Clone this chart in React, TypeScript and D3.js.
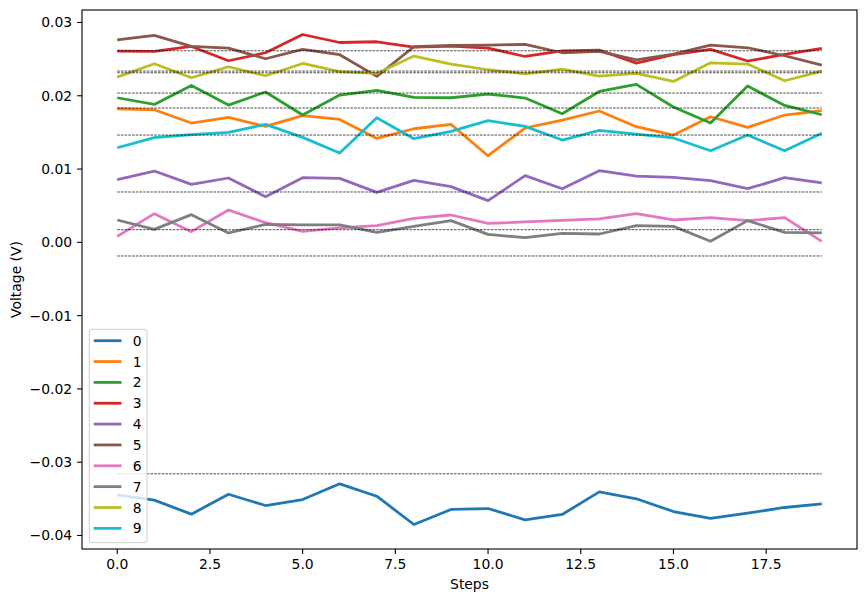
import React from 'react';
import * as d3 from 'd3';

const steps = [0, 1, 2, 3, 4, 5, 6, 7, 8, 9, 10, 11, 12, 13, 14, 15, 16, 17, 18, 19];

const s0 = [-0.03445, -0.03518, -0.03709, -0.03437, -0.03591, -0.03509, -0.03295, -0.03464, -0.0385, -0.03645, -0.03632, -0.03786, -0.03713, -0.03404, -0.03499, -0.03673, -0.03768, -0.03696, -0.03618, -0.03568];
const s1 = [0.01823, 0.01809, 0.01628, 0.01705, 0.01582, 0.01728, 0.01677, 0.01418, 0.0155, 0.01609, 0.01182, 0.0156, 0.01669, 0.01792, 0.01578, 0.01464, 0.01714, 0.01568, 0.01737, 0.01796];
const s2 = [0.01973, 0.01882, 0.02141, 0.01873, 0.02051, 0.01737, 0.0201, 0.02073, 0.01977, 0.01973, 0.02024, 0.01969, 0.01755, 0.02059, 0.02155, 0.01846, 0.01628, 0.02133, 0.01868, 0.01741];
const s3 = [0.0261, 0.02605, 0.02673, 0.02478, 0.02587, 0.02836, 0.02727, 0.02737, 0.02665, 0.02678, 0.02651, 0.02536, 0.02614, 0.02623, 0.02446, 0.0256, 0.02632, 0.02474, 0.02564, 0.02646];
const s4 = [0.00855, 0.00973, 0.00791, 0.00878, 0.00623, 0.00882, 0.00873, 0.00682, 0.00845, 0.0076, 0.00569, 0.0091, 0.00732, 0.00978, 0.00905, 0.00887, 0.00841, 0.00732, 0.00882, 0.0081];
const s5 = [0.02764, 0.02823, 0.02673, 0.02651, 0.02505, 0.02632, 0.0256, 0.02264, 0.02669, 0.02686, 0.02692, 0.027, 0.02587, 0.02605, 0.02491, 0.02569, 0.02692, 0.02655, 0.02546, 0.02419];
const s6 = [0.00082, 0.00391, 0.00146, 0.00442, 0.00268, 0.0015, 0.00196, 0.00228, 0.00327, 0.00373, 0.00259, 0.00278, 0.003, 0.00319, 0.00391, 0.00305, 0.00337, 0.00296, 0.00337, 0.00014];
const s7 = [0.00305, 0.00177, 0.00378, 0.00128, 0.00245, 0.00237, 0.00237, 0.00136, 0.00218, 0.00296, 0.00109, 0.00064, 0.00123, 0.00114, 0.00228, 0.00218, 0.00014, 0.00296, 0.00136, 0.00128];
const s8 = [0.02255, 0.02437, 0.02246, 0.02396, 0.02273, 0.02441, 0.02328, 0.02305, 0.02542, 0.02433, 0.02355, 0.023, 0.02364, 0.02269, 0.02305, 0.02195, 0.0245, 0.02433, 0.02205, 0.02337];
const s9 = [0.01291, 0.01428, 0.01469, 0.015, 0.01609, 0.01432, 0.01219, 0.017, 0.01414, 0.01514, 0.0166, 0.01582, 0.01396, 0.01527, 0.01478, 0.01424, 0.0125, 0.01464, 0.0125, 0.01487];

const seriesNames = ['0', '1', '2', '3', '4', '5', '6', '7', '8', '9'];
const seriesValues = [s0, s1, s2, s3, s4, s5, s6, s7, s8, s9];
const colors = ['#1f77b4', '#ff7f0e', '#2ca02c', '#d62728', '#9467bd', '#8c564b', '#e377c2', '#7f7f7f', '#bcbd22', '#17becf'];

const thresholds = [-0.03158, 0.02037, 0.02314, 0.02614, 0.00687, 0.02337, 0.00173, -0.00186, 0.01833, 0.01464];

const xTicks = [0, 2.5, 5, 7.5, 10, 12.5, 15, 17.5];
const yTicks = [-0.04, -0.03, -0.02, -0.01, 0, 0.01, 0.02, 0.03];

const W = 866, H = 602;
const L = 82, R = 857, T = 10, B = 549;
const FONT = 'DejaVu Sans, sans-serif';
const FS = 13.9;

export default function App() {
  const allVals = seriesValues.flat();
  const yMin = d3.min(allVals) as number;
  const yMax = d3.max(allVals) as number;
  const yPad = (yMax - yMin) * 0.05;
  const xMin = d3.min(steps) as number;
  const xMax = d3.max(steps) as number;
  const xPad = (xMax - xMin) * 0.05;

  const x = d3.scaleLinear().domain([xMin - xPad, xMax + xPad]).range([L, R]);
  const y = d3.scaleLinear().domain([yMin - yPad, yMax + yPad]).range([B, T]);

  const line = d3.line<number>().x((_, i) => x(steps[i])).y((d) => y(d));

  const fmtY = (v: number) => {
    const s = Math.abs(v).toFixed(2);
    return (v < -1e-9 ? '\u2212' : '') + s;
  };

  const legendX = 89.3, legendY = 329.3, legendW = 57.7, legendH = 213.4;
  const rowH = 20.85;

  return (
    <svg width={W} height={H} style={{ position: 'absolute', left: 0, top: 0, background: '#fff' }} fontFamily={FONT}>
      <rect x={0} y={0} width={W} height={H} fill="#fff" />
      <defs>
        <clipPath id="plotclip">
          <rect x={L} y={T} width={R - L} height={B - T} />
        </clipPath>
      </defs>
      <g clipPath="url(#plotclip)">
        {seriesValues.map((vals, k) => (
          <path key={k} d={line(vals) || ''} fill="none" stroke={colors[k]} strokeWidth={2.78} strokeLinejoin="round" strokeLinecap="butt" />
        ))}
        {thresholds.map((t, k) => (
          <line key={'t' + k} x1={x(xMin)} x2={x(xMax)} y1={y(t)} y2={y(t)} stroke="#000" strokeWidth={0.7} strokeDasharray="2.6,1.1" />
        ))}
      </g>
      {/* spines */}
      <rect x={L} y={T} width={R - L} height={B - T} fill="none" stroke="#000" strokeWidth={1.1} />
      {/* x ticks */}
      {xTicks.map((t) => (
        <g key={'x' + t}>
          <line x1={x(t)} x2={x(t)} y1={B} y2={B + 4.9} stroke="#000" strokeWidth={1.1} />
          <text x={x(t)} y={B + 9.8 + FS * 0.76} textAnchor="middle" fontSize={FS} fill="#000">{t.toFixed(1)}</text>
        </g>
      ))}
      {/* y ticks */}
      {yTicks.map((t) => (
        <g key={'y' + t}>
          <line x1={L - 4.9} x2={L} y1={y(t)} y2={y(t)} stroke="#000" strokeWidth={1.1} />
          <text x={L - 9.8} y={y(t)} dy="0.36em" textAnchor="end" fontSize={FS} fill="#000">{fmtY(t)}</text>
        </g>
      ))}
      <text x={(L + R) / 2} y={589} textAnchor="middle" fontSize={FS} fill="#000">Steps</text>
      <text transform={`translate(20.5, ${(T + B) / 2}) rotate(-90)`} textAnchor="middle" fontSize={FS} fill="#000">Voltage (V)</text>
      {/* legend */}
      <rect x={legendX} y={legendY} width={legendW} height={legendH} rx={2.8} ry={2.8} fill="#fff" fillOpacity={0.8} stroke="#cccccc" strokeWidth={1} />
      {seriesNames.map((n, k) => {
        const cy = legendY + 11.4 + k * rowH;
        return (
          <g key={'l' + k}>
            <line x1={legendX + 4.4} x2={legendX + 32.2} y1={cy} y2={cy} stroke={colors[k]} strokeWidth={2.78} />
            <text x={legendX + 43.5} y={cy} dy="0.36em" fontSize={FS} fill="#000">{n}</text>
          </g>
        );
      })}
    </svg>
  );
}
